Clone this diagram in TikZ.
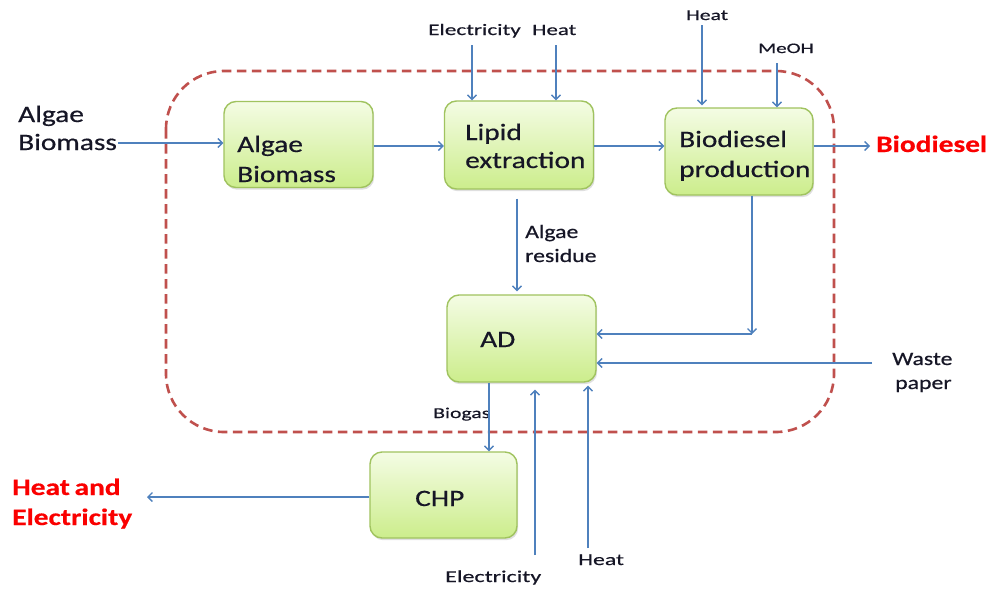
\documentclass[tikz,border=0pt]{standalone}
\usepackage{fontspec}
\setmainfont{Carlito}[FakeStretch=1.25, FakeBold=0.5]
\newfontfamily\widefont{Carlito}[FakeStretch=1.45, FakeBold=0.4]
\usetikzlibrary{arrows.meta,shadows}

\definecolor{flowblue}{RGB}{79,129,189}
\definecolor{boxedge}{RGB}{160,195,95}
\definecolor{boxtop}{RGB}{244,252,228}
\definecolor{boxbottom}{RGB}{204,237,140}
\definecolor{borderred}{RGB}{192,80,77}
\definecolor{inkdark}{RGB}{22,22,38}
\definecolor{outred}{RGB}{250,0,0}

\tikzset{
  procbox/.style={draw=boxedge, line width=1.4pt, rounded corners=12pt,
    top color=boxtop, bottom color=boxbottom, inner sep=0pt,
    drop shadow={opacity=0.25, shadow xshift=1.2pt, shadow yshift=-2.2pt}},
  boxtext/.style={inner sep=0pt, anchor=base west, text=inkdark, font=\fontsize{23.5}{28}\selectfont},
  midtext/.style={inner sep=0pt, anchor=base west, text=inkdark, font=\fontsize{19}{23}\selectfont},
  smalltext/.style={inner sep=0pt, anchor=base west, text=inkdark},
  redtext/.style={inner sep=0pt, anchor=base west, text=outred, font=\fontsize{23.5}{28}\selectfont\bfseries},
  flow/.style={draw=flowblue, line width=1.3pt,
    -{Straight Barb[length=4.5pt,width=9pt]}},
  boundary/.style={draw=borderred, line width=2.6pt, dash pattern=on 9.5pt off 5.5pt,
    rounded corners=58pt}
}

\begin{document}
\begin{tikzpicture}[x=1pt,y=-1pt]
\useasboundingbox[fill=white] (0,0) rectangle (992,589);

% system boundary
\draw[boundary] (166,71) rectangle (834,432);

% process boxes
\node[procbox, minimum width=149pt, minimum height=86pt] (bm)  at (298.5,144.5) {};
\node[procbox, minimum width=149pt, minimum height=88pt] (lx)  at (519,145) {};
\node[procbox, minimum width=148pt, minimum height=87pt] (bd)  at (739,151.5) {};
\node[procbox, minimum width=149pt, minimum height=87pt] (ad)  at (521.5,338.5) {};
\node[procbox, minimum width=147pt, minimum height=86pt] (chp) at (443.5,495) {};

% box texts
\node[boxtext] (bmA) at (237,152) {Algae};
\node[boxtext] (bmB) at (237,182) {Biomass};
\node[boxtext] (lxA) at (465,140) {Lipid};
\node[boxtext] (lxB) at (465,168) {extraction};
\node[boxtext] (bdA) at (679,147) {Biodiesel};
\node[boxtext] (bdB) at (679,177) {production};
\node[boxtext] (adT) at (480,347) {AD};
\node[boxtext] (chpT) at (415,506) {CHP};

% outside texts
\node[boxtext] (inA) at (18,122) {Algae};
\node[boxtext] (inB) at (18,150) {Biomass};
\node[redtext] (outBd) at (876,152) {Biodiesel};
\node[redtext] (outHE1) at (12,495) {Heat\hspace{-2pt} and};
\node[redtext] (outHE2) at (12,525) {Electricity};
\node[midtext] (resA) at (525,238) {Algae};
\node[midtext] (resB) at (525,262) {residue};
\node[midtext] (wpA) at (892,365) {Waste};
\node[midtext] (wpB) at (895,389) {paper};
\node[smalltext, font=\widefont\fontsize{16}{19}\selectfont] (elTop) at (428,35) {Electricity};
\node[smalltext, font=\widefont\fontsize{15.8}{19}\selectfont] (htTop) at (532,35) {Heat};
\node[smalltext, font=\widefont\fontsize{15}{18}\selectfont] (htTop2) at (686,20) {Heat};
\node[smalltext, font=\widefont\fontsize{14.5}{18}\selectfont] (meoh) at (758,53) {MeOH};
\node[smalltext, font=\widefont\fontsize{15}{18}\selectfont] (biogas) at (433,418) {Biogas};
\node[smalltext, font=\widefont\fontsize{16.6}{20}\selectfont] (elBot) at (445,582) {Electricity};
\node[smalltext, font=\widefont\fontsize{16.4}{20}\selectfont] (htBot) at (578,565) {Heat};

% free ends of the streams
\coordinate (feedIn) at (118,143);
\coordinate (mainY) at (0,146);
\coordinate (elecIn) at (472,45);
\coordinate (heatIn) at (556,45);
\coordinate (heatIn2) at (702,25);
\coordinate (meohIn) at (777,63);
\coordinate (bdOut) at (870,146);
\coordinate (heOut) at (147,497);
\coordinate (resX) at (517,0);
\coordinate (bdDown) at (752,334);
\coordinate (wasteIn) at (872,363);
\coordinate (gasX) at (489,0);
\coordinate (elecUp) at (535,555);
\coordinate (heatUp) at (588,548);

% main line
\draw[flow] (feedIn) -- (feedIn -| bm.west);
\draw[flow] (bm.east |- mainY) -- (lx.west |- mainY);
\draw[flow] (lx.east |- mainY) -- (bd.west |- mainY);
\draw[flow] (bd.east |- bdOut) -- (bdOut);

% utilities into the top boxes
\draw[flow] (elecIn) -- (elecIn |- lx.north);
\draw[flow] (heatIn) -- (heatIn |- lx.north);
\draw[flow, shorten >=2pt] (heatIn2) -- (heatIn2 |- bd.north);
\draw[flow] (meohIn) -- (meohIn |- bd.north);

% residues to AD
\draw[flow, shorten <=9pt, shorten >=3pt] (resX |- lx.south) -- (resX |- ad.north);
\draw[flow] (bd.south -| bdDown) -- (bdDown);
\draw[flow] (bdDown) -- (ad.east |- bdDown);
\draw[flow] (wasteIn) -- (ad.east |- wasteIn);

% AD to CHP and utilities
\draw[flow] (ad.south -| gasX) -- (chp.north -| gasX);
\draw[flow, shorten >=7pt] (elecUp) -- (elecUp |- ad.south);
\draw[flow, shorten >=3pt] (heatUp) -- (heatUp |- ad.south);
\draw[flow] (chp.west |- heOut) -- (heOut);
\end{tikzpicture}
\end{document}
